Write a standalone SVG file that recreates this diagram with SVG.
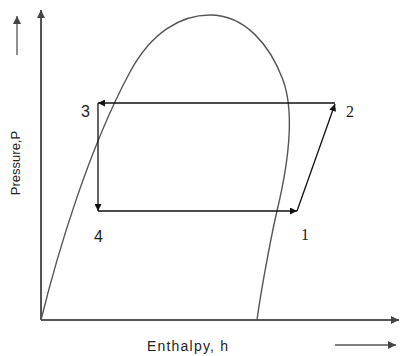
<svg xmlns="http://www.w3.org/2000/svg" width="400" height="356" viewBox="0 0 400 356">
<defs>
<marker id="ah" viewBox="0 0 10 10" refX="10" refY="5" markerWidth="8" markerHeight="7" markerUnits="userSpaceOnUse" orient="auto"><path d="M0,0 L10,5 L0,10 z" fill="#111"/></marker>
<marker id="ahg" viewBox="0 0 10 10" refX="10" refY="5" markerWidth="9" markerHeight="8" markerUnits="userSpaceOnUse" orient="auto"><path d="M0,0 L10,5 L0,10 z" fill="#444"/></marker>
</defs>
<style>
.axis{stroke:#555;stroke-width:2;fill:none}
.small{stroke:#555;stroke-width:1.3;fill:none}
.dome{stroke:#555;stroke-width:1.4;fill:none}
.cyc{stroke:#111;stroke-width:1.3;fill:none}
.lab{font-family:"Liberation Sans",Arial,sans-serif;fill:#222}
.ser{font-family:"Liberation Serif","Times New Roman",serif;fill:#222}
</style>
<rect width="400" height="356" fill="#fff"/>
<g id="axes">
<path class="axis" d="M41,320 L41,10" marker-end="url(#ahg)"/>
<path class="axis" d="M41,320 L399,320" marker-end="url(#ahg)"/>
<path class="small" d="M17,55 L17,16" marker-end="url(#ahg)"/>
<path class="small" d="M335,345 L396,345" marker-end="url(#ahg)"/>
</g>
<g id="dome">
<path class="dome" d="M41,320 C57,255 88,150 130,72 C151,33 180,15 210,15 C245,15 270,45 283,80 C291,102 294,140 277,211 C272,232 261,290 257,320"/>
</g>
<g id="connectors">
<path class="cyc" d="M335,103 L98,103" marker-end="url(#ah)"/>
<path class="cyc" d="M98,103 L98,211" marker-end="url(#ah)"/>
<path class="cyc" d="M98,211 L297,211" marker-end="url(#ah)"/>
<path class="cyc" d="M297,211 L335,104" marker-end="url(#ah)"/>
</g>
<g id="n3"><text class="lab" x="81" y="117" font-size="16" fill="#333">3</text></g>
<g id="n2"><text class="ser" x="346" y="117" font-size="16">2</text></g>
<g id="n4"><text class="lab" x="94" y="242" font-size="16" fill="#333">4</text></g>
<g id="n1"><text class="ser" x="301" y="240" font-size="16">1</text></g>
<g id="labels">
<text class="lab" x="147" y="351" font-size="14" letter-spacing="1.2">Enthalpy, h</text>
<text class="lab" transform="translate(20,163) rotate(-90)" text-anchor="middle" font-size="13">Pressure,P</text>
</g>
</svg>
